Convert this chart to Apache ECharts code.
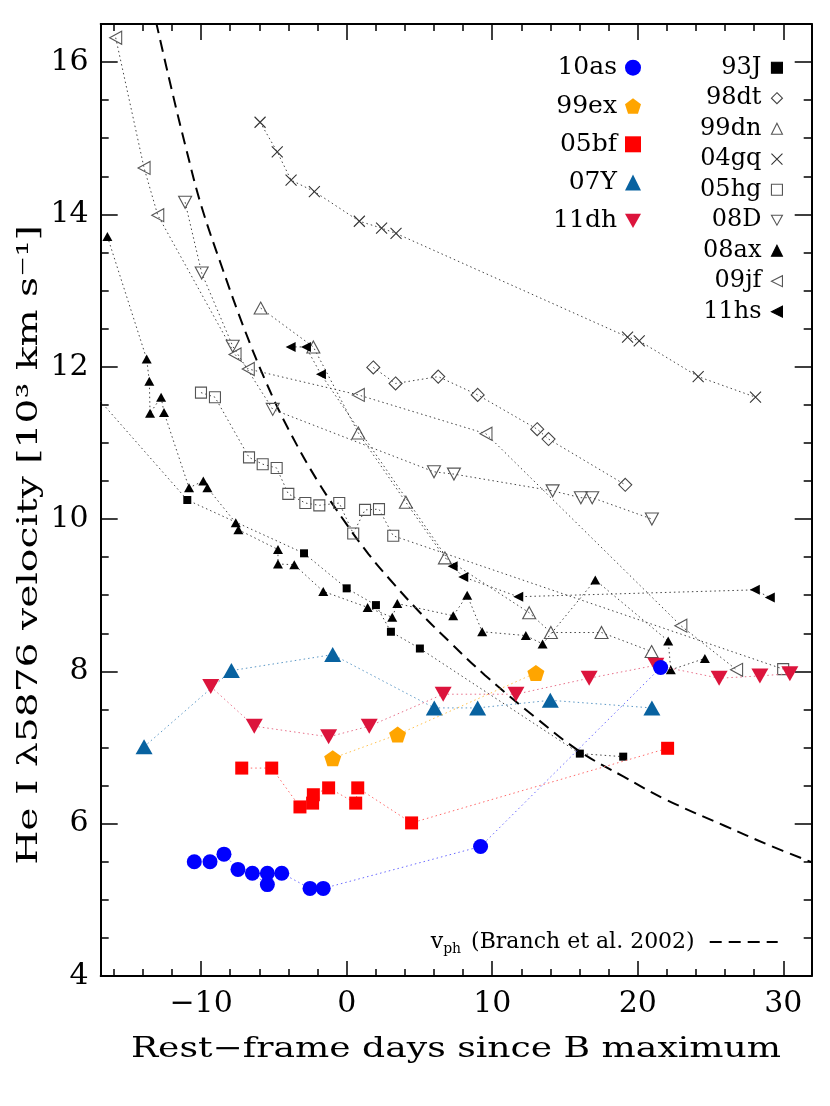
<!DOCTYPE html>
<html><head><meta charset="utf-8">
<script src="https://cdn.jsdelivr.net/npm/echarts@6/dist/echarts.min.js"></script>
<style>html,body{margin:0;padding:0;background:#fff}#c{width:830px;height:1106px}</style>
</head><body><div id="c"></div>
<script>
// ---- tick values ----
const xMajorTicks = [-10, 0, 10, 20, 30];
const xMinorTicks = [-16,-14,-12,-8,-6,-4,-2,2,4,6,8,12,14,16,18,22,24,26,28];
const yMajorTicks = [4, 6, 8, 10, 12, 14, 16];
const yMinorTicks = [4.5,5,5.5,6.5,7,7.5,8.5,9,9.5,10.5,11,11.5,12.5,13,13.5,14.5,15,15.5];

// ---- data: [rest-frame days, He I velocity (10^3 km/s)] ----
const sn10as = [[-10.47,5.50],[-9.39,5.50],[-8.43,5.60],[-7.47,5.40],[-6.48,5.35],[-5.45,5.20],[-5.45,5.35],[-4.46,5.35],[-2.52,5.15],[-1.61,5.15],[9.2,5.70],[21.57,8.05]];
const sn99ex = [[-0.96,6.86],[3.50,7.17],[13.0,7.98]];
const sn05bf = [[-7.21,6.73],[-5.15,6.73],[-3.21,6.22],[-2.34,6.27],[-2.29,6.38],[-1.24,6.47],[0.62,6.27],[0.76,6.47],[4.46,6.01],[22.05,6.99]];
const sn07Y  = [[-13.92,7.01],[-7.92,8.01],[-0.96,8.22],[6.02,7.52],[9.0,7.52],[13.99,7.62],[20.97,7.52]];
const sn11dh = [[-9.34,7.80],[-6.35,7.28],[-1.24,7.14],[1.55,7.28],[6.63,7.70],[11.63,7.70],[16.66,7.91],[21.24,8.08],[25.59,7.91],[28.39,7.94],[30.45,7.97]];
const sn93J  = [[-19.0,12.0],[-10.95,10.25],[-2.93,9.55],[0.0,9.09],[2.01,8.87],[3.04,8.52],[5.03,8.30],[16.02,6.92],[19.0,6.88]];
const sn98dt = [[1.83,11.99],[3.36,11.78],[6.29,11.87],[9.0,11.63],[13.09,11.18],[13.87,11.05],[19.14,10.45]];
const sn99dn = [[-5.91,12.77],[-2.29,12.26],[0.80,11.13],[4.07,10.22],[6.75,9.49],[12.54,8.77],[14.03,8.51],[17.51,8.51],[20.95,8.26]];
const sn04gq = [[-5.95,15.21],[-4.77,14.82],[-3.82,14.45],[-2.22,14.30],[0.87,13.91],[2.40,13.82],[3.39,13.75],[19.3,12.39],[20.1,12.34],[24.15,11.87],[28.09,11.60]];
const sn05hg = [[-10.01,11.66],[-9.05,11.60],[-6.71,10.81],[-5.77,10.72],[-4.81,10.67],[-4.01,10.33],[-2.84,10.21],[-1.88,10.18],[-0.51,10.21],[0.45,9.81],[1.26,10.12],[2.22,10.13],[3.2,9.78],[29.99,8.03]];
const sn08D  = [[-11.1,14.16],[-9.96,13.23],[-7.83,12.27],[-5.08,11.44],[6.0,10.62],[7.37,10.59],[14.15,10.37],[16.09,10.28],[16.87,10.28],[20.97,10.0]];
const sn08ax = [[-16.44,13.71],[-13.74,12.10],[-13.56,11.81],[-13.51,11.39],[-12.75,11.60],[-12.55,11.40],[-10.83,10.41],[-9.85,10.50],[-9.57,10.41],[-7.62,9.95],[-7.44,9.86],[-4.72,9.60],[-4.72,9.41],[-3.6,9.40],[-1.61,9.05],[1.44,8.84],[3.13,8.71],[3.48,8.89],[7.32,8.73],[8.28,9.00],[9.31,8.52],[12.31,8.47],[13.46,8.36],[17.08,9.20],[22.09,8.40],[22.27,8.02],[24.61,8.17]];
const sn09jf = [[-15.87,16.32],[-13.92,14.61],[-12.98,13.99],[-7.67,12.16],[-6.76,11.97],[0.80,11.63],[9.57,11.12],[22.96,8.60],[26.79,8.02]];
const sn11hs = [[-3.85,12.26],[-2.8,12.26],[-1.77,11.90],[7.28,9.38],[8.01,9.24],[11.79,8.98],[28.04,9.07],[29.07,8.97]];
// dashed photospheric-velocity curve
const vphBranch = [[-13.1,16.53],[-12,15.62],[-11,14.84],[-10,14.12],[-8.5,13.27],[-7,12.48],[-5.5,11.78],[-4,11.18],[-2,10.5],[0,9.93],[1.5,9.54],[3,9.2],[5,8.78],[7,8.4],[9.5,7.95],[13,7.39],[16,6.95],[19,6.62],[22,6.31],[26,5.97],[29,5.72],[32,5.49]];

const leftLegendNames = ['10as','99ex','05bf','07Y','11dh'];
const rightLegendNames = ['93J','98dt','99dn','04gq','05hg','08D','08ax','09jf','11hs'];
const VPH = 'vph (Branch et al. 2002)';

// ---- styling ----
const XMIN = -16.9, XMAX = 31.95, YMIN = 4, YMAX = 16.5;
const FONT = '"DejaVu Serif", serif';
const P_DOWN = 'path://M0,0L10,0L5,9Z';
const P_LEFT = 'path://M0,5L10,0L10,10Z';
const P_PENT = 'path://M5,0L10,3.7L8.1,9.6L1.9,9.6L0,3.7Z';
const P_CROSS = 'path://M0,0L10,10M10,0L0,10';
const DOT = [1.5, 3];

const styles = {
  '10as': {data: sn10as, symbol:'circle', size:15, fill:'#0000ff', stroke:'#0000ff', bw:0, line:'#6a6aff'},
  '99ex': {data: sn99ex, symbol:P_PENT, size:[17,16], fill:'#ffa500', stroke:'#ffa500', bw:0, line:'#ffc24d'},
  '05bf': {data: sn05bf, symbol:'rect', size:13, fill:'#ff0000', stroke:'#ff0000', bw:0, line:'#ff6a6a'},
  '07Y':  {data: sn07Y, symbol:'triangle', size:[17,15], fill:'#0862a0', stroke:'#0862a0', bw:0, line:'#5c98c6'},
  '11dh': {data: sn11dh, symbol:P_DOWN, size:[17,15], fill:'#dc143c', stroke:'#dc143c', bw:0, line:'#e8708a'},
  '93J':  {data: sn93J, symbol:'rect', size:8, fill:'#000', stroke:'#000', bw:0, line:'#444'},
  '98dt': {data: sn98dt, symbol:'diamond', size:13, fill:'rgba(0,0,0,0)', stroke:'#444', bw:1.1, line:'#444'},
  '99dn': {data: sn99dn, symbol:'triangle', size:[13,12], fill:'rgba(0,0,0,0)', stroke:'#555', bw:1.1, line:'#444'},
  '04gq': {data: sn04gq, symbol:P_CROSS, size:11, fill:'rgba(0,0,0,0)', stroke:'#333', bw:1.1, line:'#444'},
  '05hg': {data: sn05hg, symbol:'rect', size:11, fill:'rgba(0,0,0,0)', stroke:'#555', bw:1.1, line:'#444'},
  '08D':  {data: sn08D, symbol:P_DOWN, size:[13,12], fill:'rgba(0,0,0,0)', stroke:'#555', bw:1.1, line:'#444'},
  '08ax': {data: sn08ax, symbol:'triangle', size:[10,9], fill:'#000', stroke:'#000', bw:0, line:'#444'},
  '09jf': {data: sn09jf, symbol:P_LEFT, size:[12,13], fill:'rgba(0,0,0,0)', stroke:'#555', bw:1.1, line:'#444'},
  '11hs': {data: sn11hs, symbol:P_LEFT, size:[10,10], fill:'#000', stroke:'#000', bw:0, line:'#444'}
};
const drawOrder = ['93J','98dt','99dn','04gq','05hg','08D','08ax','09jf','11hs','07Y','05bf','99ex','11dh','10as'];

function fmt(v){ return v < 0 ? '\u2212' + (-v) : String(v); }

function xAx(pos, ticks, len, line, label){
  return {type:'value', position:pos, min:XMIN, max:XMAX,
    axisLine:{show:line, onZero:false, lineStyle:{color:'#000', width:2}},
    axisTick:{show:true, inside:true, length:len, customValues:ticks, lineStyle:{color:'#000', width:1.5}},
    axisLabel:{show:label, customValues:ticks, formatter:fmt, fontSize:30, fontFamily:FONT, color:'#000', margin:13},
    splitLine:{show:false}, axisPointer:{show:false}};
}
function yAx(pos, ticks, len, line, label){
  return {type:'value', position:pos, min:YMIN, max:YMAX,
    axisLine:{show:line, onZero:false, lineStyle:{color:'#000', width:2}},
    axisTick:{show:true, inside:true, length:len, customValues:ticks, lineStyle:{color:'#000', width:1.5}},
    axisLabel:{show:label, customValues:ticks, formatter:fmt, fontSize:30, fontFamily:FONT, color:'#000', margin:12},
    splitLine:{show:false}, axisPointer:{show:false}};
}

const series = [{
  name: VPH, type:'line', data: vphBranch, smooth:0.4, symbol:'none', z:1,
  lineStyle:{color:'#000', width:2, type:[12,7]}, itemStyle:{color:'#000'},
  emphasis:{disabled:true}
}];
drawOrder.forEach(function(n, i){
  const s = styles[n];
  series.push({
    name:n, type:'line', data:s.data, symbol:s.symbol, symbolSize:s.size, showSymbol:true, z:2+i,
    lineStyle:{color:s.line, width:1, type:DOT},
    itemStyle:{color:s.fill, borderColor:s.stroke, borderWidth:s.bw},
    emphasis:{disabled:true}
  });
});

const chart = echarts.init(document.getElementById('c'), null, {renderer:'canvas'});
chart.setOption({
  animation:false,
  backgroundColor:'#fff',
  grid:{left:100.7, right:18.3, top:24, bottom:130, containLabel:false},
  xAxis:[ xAx('bottom', xMajorTicks, 15, true, true), xAx('bottom', xMinorTicks, 7, false, false),
          xAx('top', xMajorTicks, 16, true, false), xAx('top', xMinorTicks, 7, false, false) ],
  yAxis:[ yAx('left', yMajorTicks, 17, true, true), yAx('left', yMinorTicks, 8, false, false),
          yAx('right', yMajorTicks, 17, true, false), yAx('right', yMinorTicks, 8, false, false) ],
  legend:[
    {data: leftLegendNames.map(function(n){ return {name:n, icon:styles[n].symbol}; }),
     orient:'vertical', align:'right', right:184, top:47.7, itemWidth:16, itemHeight:16, itemGap:8.3,
     selectedMode:false, itemStyle:{borderWidth:0},
     textStyle:{fontSize:25, fontFamily:FONT, color:'#000', lineHeight:30, padding:[0,3,0,0]}},
    {data: rightLegendNames.map(function(n){ return {name:n, icon:styles[n].symbol}; }),
     orient:'vertical', align:'right', right:42, top:49.7, itemWidth:11, itemHeight:11, itemGap:4.5,
     selectedMode:false, itemStyle:{borderWidth:1.1},
     textStyle:{fontSize:24, fontFamily:FONT, color:'#000', lineHeight:26, padding:[0,5,0,0]}},
    {data:[{name:VPH}], orient:'vertical', align:'right', right:46.4, top:926, itemWidth:68, itemHeight:22,
     selectedMode:false, itemStyle:{color:'rgba(0,0,0,0)', borderWidth:0}, lineStyle:{width:1.8},
     formatter:function(){ return '{v|v}{s|ph} (Branch et al. 2002)'; },
     textStyle:{fontSize:22, fontFamily:FONT, color:'#000', padding:[0,10,0,0],
       rich:{v:{fontSize:22, fontFamily:FONT, color:'#000'}, s:{fontSize:14, fontFamily:FONT, color:'#000', padding:[14,3,0,0]}}}}
  ],
  graphic:[
    {type:'text', x:30, y:545, rotation:Math.PI/2, scaleX:1.4, silent:true,
     style:{text:'He I \u03bb5876 velocity [10\u00b3 km s\u207b\u00b9]', fontSize:28, fontFamily:FONT, fill:'#000', align:'center', verticalAlign:'middle'}},
    {type:'text', x:456, y:1050, scaleX:1.29, silent:true,
     style:{text:'Rest\u2212frame days since B maximum', fontSize:28, fontFamily:FONT, fill:'#000', align:'center', verticalAlign:'middle'}}
  ],
  series: series
});
</script>
</body></html>
